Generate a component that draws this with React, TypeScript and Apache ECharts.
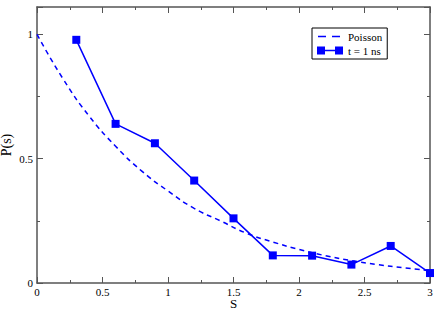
import React, { useEffect, useRef } from "react";
import * as echarts from "echarts";

const sValues = [0.3, 0.6, 0.9, 1.2, 1.5, 1.8, 2.1, 2.4, 2.7, 3.0];
const pValues = [0.978, 0.64, 0.562, 0.412, 0.26, 0.111, 0.11, 0.074, 0.149, 0.04];

const poissonS = [0, 0.2, 0.4, 0.6, 0.8, 1.0, 1.2, 1.4, 1.6, 1.8, 2.0, 2.2, 2.4, 2.6, 2.8, 3.0];
const poissonP = [1, 0.82, 0.67, 0.55, 0.45, 0.37, 0.3, 0.25, 0.2, 0.165, 0.135, 0.11, 0.09, 0.074, 0.061, 0.05];

const FONT = "'Liberation Serif', 'DejaVu Serif', serif";
const AXIS_COLOR = "#555555";

const DASH_ICON =
  "path://M0,0h0.01v0.01h-0.01z M25.99,7.99h0.01v0.01h-0.01z M1,3.25h8v1.5h-8z M15,3.25h8v1.5h-8z";
const MARK_ICON = "path://M0,0h8v8h-8z M8,3.25h10v1.5h-10z M18,0h8v8h-8z";

export default function App() {
  const ref = useRef<HTMLDivElement>(null);
  useEffect(() => {
    if (!ref.current) return;
    const chart = echarts.init(ref.current, null, { renderer: "svg" });
    const axisCommon = {
      type: "value" as const,
      axisLine: { show: true, onZero: false, lineStyle: { color: AXIS_COLOR, width: 1.5 } },
      axisTick: { show: true, inside: true, length: 6, lineStyle: { color: AXIS_COLOR, width: 1 } },
      minorTick: { show: true, splitNumber: 2, length: 3, lineStyle: { color: AXIS_COLOR, width: 1 } },
      splitLine: { show: false },
      minorSplitLine: { show: false },
    };
    chart.setOption({
      animation: false,
      backgroundColor: "#ffffff",
      textStyle: { fontFamily: FONT },
      grid: { left: 37, right: 6, top: 7, bottom: 27, containLabel: false, outerBoundsMode: "none" },
      legend: {
        show: true,
        left: 312,
        top: 28,
        orient: "vertical",
        padding: [3, 5, 3, 5],
        borderColor: "#000",
        borderWidth: 1,
        backgroundColor: "#fff",
        itemWidth: 26,
        itemHeight: 8,
        itemGap: 3,
        textStyle: { fontFamily: FONT, fontSize: 11, color: "#000" },
        data: [
          { name: "Poisson", icon: DASH_ICON },
          { name: "t = 1 ns", icon: MARK_ICON },
        ],
      },
      xAxis: [
        {
          ...axisCommon,
          min: 0,
          max: 3,
          interval: 0.5,
          position: "bottom",
          name: "S",
          nameLocation: "middle",
          nameGap: 14,
          nameMoveOverlap: false,
          nameTextStyle: { fontFamily: FONT, fontSize: 13, color: "#000", fontWeight: "normal" },
          axisLabel: { fontFamily: FONT, fontSize: 11, color: "#000", margin: 3, showMaxLabel: true, hideOverlap: false },
        },
        {
          ...axisCommon,
          min: 0,
          max: 3,
          interval: 0.5,
          position: "top",
          axisLabel: { show: false },
        },
      ],
      yAxis: [
        {
          ...axisCommon,
          min: 0,
          max: 1.11,
          interval: 0.5,
          position: "left",
          name: "P(s)",
          nameLocation: "middle",
          nameGap: 24,
          nameMoveOverlap: false,
          nameTextStyle: { fontFamily: FONT, fontSize: 14, color: "#000", fontWeight: "normal" },
          axisLabel: { fontFamily: FONT, fontSize: 11, color: "#000", margin: 4, showMaxLabel: false },
        },
        {
          ...axisCommon,
          min: 0,
          max: 1.11,
          interval: 0.5,
          position: "right",
          axisLabel: { show: false },
        },
      ],
      series: [
        {
          name: "Poisson",
          type: "line",
          data: poissonS.map((s, i) => [s, poissonP[i]]),
          smooth: true,
          showSymbol: false,
          symbol: "none",
          lineStyle: { color: "#0000ff", width: 1.5, type: [5, 4] },
          itemStyle: { color: "#0000ff" },
          z: 2,
        },
        {
          name: "t = 1 ns",
          type: "line",
          data: sValues.map((s, i) => [s, pValues[i]]),
          symbol: "rect",
          symbolSize: 8,
          clip: false,
          lineStyle: { color: "#0000ff", width: 1.5 },
          itemStyle: { color: "#0000ff" },
          z: 3,
        },
      ],
    });
    return () => chart.dispose();
  }, []);
  return (
    <div
      ref={ref}
      style={{ position: "fixed", left: 0, top: 0, width: 436, height: 310 }}
    />
  );
}
